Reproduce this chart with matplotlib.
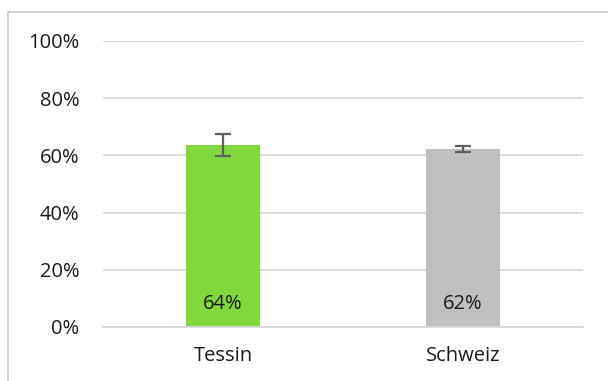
import matplotlib.pyplot as plt
from matplotlib.patches import Rectangle

categories = ['Tessin', 'Schweiz']
values = [0.636, 0.622]
errors = [0.038, 0.011]
labels = ['64%', '62%']
colors = ['#80D83C', '#BFBFBF']
yticks = [0, 0.2, 0.4, 0.6, 0.8, 1.0]
ytick_labels = ['0%', '20%', '40%', '60%', '80%', '100%']

plt.rcParams['font.family'] = ['Open Sans', 'DejaVu Sans']

W, H = 608, 381
fig = plt.figure(figsize=(W / 100, H / 100), dpi=100)
# Rahmen des Diagramms (rechts/unten abgeschnitten)
fig.patches.append(Rectangle((8 / W, -0.1), 1.2, (H - 12) / H + 0.1,
                             transform=fig.transFigure, fill=False,
                             edgecolor='#D0D0D0', linewidth=1.3))

ax = fig.add_axes([103 / W, (H - 327) / H, 480 / W, 286 / H])
x = range(len(categories))
ax.bar(x, values, width=0.31, color=colors, zorder=2)
ax.errorbar(x, values, yerr=errors, fmt='none', ecolor='#606060',
            elinewidth=1.6, capsize=6, capthick=1.6, zorder=3)

for i, lab in enumerate(labels):
    ax.text(i, 0.08, lab, ha='center', va='center', fontsize=14.5, color='#1a1a1a')

ax.set_xlim(-0.5, 1.5)
ax.set_ylim(0, 1)
ax.set_yticks(yticks)
ax.set_yticklabels(ytick_labels)
ax.set_xticks(list(x))
ax.set_xticklabels(categories)
ax.tick_params(axis='both', length=0, labelsize=14.5, colors='#1a1a1a')
ax.tick_params(axis='y', pad=17)
ax.tick_params(axis='x', pad=14)
ax.yaxis.grid(True, color='#D9D9D9', linewidth=1.3, zorder=0)
ax.set_axisbelow(True)
for s in ['top', 'right', 'left']:
    ax.spines[s].set_visible(False)
ax.spines['bottom'].set_color('#D9D9D9')
ax.spines['bottom'].set_linewidth(1.3)

plt.savefig('out.png', dpi=100)
